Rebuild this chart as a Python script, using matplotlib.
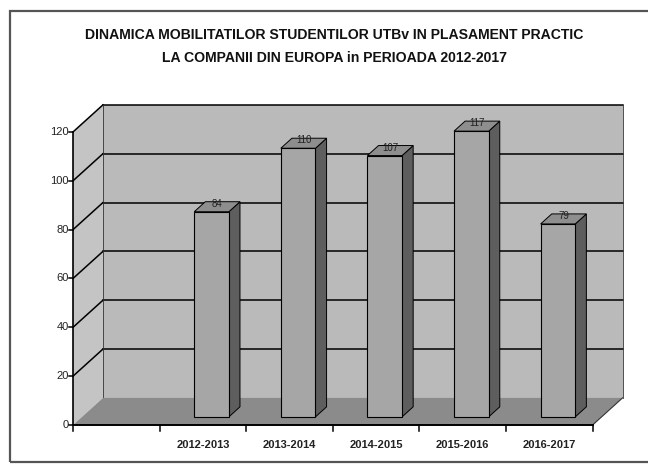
import numpy as np
import matplotlib
matplotlib.use("Agg")
import matplotlib.pyplot as plt
from matplotlib.patches import Polygon, Rectangle

# data (first category slot is empty in the original sheet)
categories = ["", "2012-2013", "2013-2014", "2014-2015", "2015-2016", "2016-2017"]
mobilities = [None, 84, 110, 107, 117, 79]
y_ticks = [0, 20, 40, 60, 80, 100, 120]

plt.rcParams["font.family"] = ["Liberation Sans Narrow", "Liberation Sans", "DejaVu Sans"]

# fake 3-D look: depth offset of the back wall, in data units
DX, DY = 0.346, 11.1
F0, F1 = 0.30, 0.67          # bar front / back as fraction of depth
BAR_OFF, BAR_W = 0.40, 0.40  # bar front face inside each slot
YMAX = 120

WALL = "#bababa"
SIDE_WALL = "#c4c4c4"
FLOOR = "#8b8b8b"
BAR_FRONT = "#a6a6a6"
BAR_TOP = "#8e8e8e"
BAR_SIDE = "#5e5e5e"

fig = plt.figure(figsize=(6.48, 4.67), dpi=100, facecolor="white")
ax = fig.add_axes([0, 0, 1, 1])
ax.set_xlim(-73 / 86.6, (648 - 73) / 86.6)
ax.set_ylim(-42 / 2.442, 425 / 2.442)
ax.axis("off")

n = len(categories)

# outer frame (right side runs off the scan)
fig.patches.append(Rectangle((10 / 648, 5 / 467), 1.05, 451 / 467,
                             transform=fig.transFigure, fill=False,
                             edgecolor="#555555", linewidth=1.6))

# left wall
ax.add_patch(Polygon([(0, 0), (DX, DY), (DX, YMAX + DY), (0, YMAX)],
                     closed=True, facecolor=SIDE_WALL, edgecolor="none", zorder=1))
# back wall
ax.add_patch(Rectangle((DX, DY), n, YMAX, facecolor=WALL, edgecolor="none", zorder=1))
# floor
ax.add_patch(Polygon([(0, 0), (n, 0), (n + DX, DY), (DX, DY)],
                     closed=True, facecolor=FLOOR, edgecolor="none", zorder=2))

# gridlines on back and left walls
for v in y_ticks[1:]:
    ax.plot([DX, n + DX], [v + DY, v + DY], color="black", lw=1.1, zorder=1.5)
    ax.plot([0, DX], [v, v + DY], color="black", lw=1.1, zorder=1.5)
ax.plot([DX, DX], [DY, YMAX + DY], color="#333333", lw=0.6, zorder=1.5)
ax.plot([n + DX, n + DX], [DY, YMAX + DY], color="#333333", lw=0.6, zorder=1.5)
ax.plot([n, n + DX], [0, DY], color="#333333", lw=0.8, zorder=2.5)

# bars
for i, v in enumerate(mobilities):
    if v is None:
        continue
    x0 = i + BAR_OFF
    x1 = x0 + BAR_W
    y0 = F0 * DY
    ddx, ddy = (F1 - F0) * DX, (F1 - F0) * DY
    top = y0 + v
    ax.add_patch(Polygon([(x1, y0), (x1 + ddx, y0 + ddy), (x1 + ddx, top + ddy), (x1, top)],
                         closed=True, facecolor=BAR_SIDE, edgecolor="black", lw=0.7, zorder=3))
    ax.add_patch(Polygon([(x0, top), (x1, top), (x1 + ddx, top + ddy), (x0 + ddx, top + ddy)],
                         closed=True, facecolor=BAR_TOP, edgecolor="black", lw=0.7, zorder=3))
    ax.add_patch(Rectangle((x0, y0), BAR_W, v, facecolor=BAR_FRONT,
                           edgecolor="black", lw=0.8, zorder=4))
    ax.text(x0 + BAR_W / 2 + ddx / 2, top + ddy * 0.8, str(v), ha="center", va="center",
            fontsize=7, color="#222222", zorder=5)

# axes lines and ticks
ax.plot([0, n], [0, 0], color="black", lw=1.4, zorder=6)
ax.plot([0, 0], [0, YMAX], color="black", lw=1.2, zorder=6)
for k in range(n + 1):
    ax.plot([k, k], [0, -2.4], color="black", lw=1.1, zorder=6)
for v in y_ticks:
    ax.plot([0, -0.045], [v, v], color="black", lw=1.1, zorder=6)
    ax.text(-0.05, v, str(v), ha="right", va="center", fontsize=8, color="#222222")

for i, c in enumerate(categories):
    ax.text(i + 0.5, -8.2, c, ha="center", va="center", fontsize=8,
            fontweight="bold", color="#222222")

fig.text(334 / 648, 1 - 35 / 467,
         "DINAMICA MOBILITATILOR STUDENTILOR UTBv IN PLASAMENT PRACTIC",
         ha="center", va="center", fontsize=10.1, fontweight="bold",
         family=["Liberation Sans", "DejaVu Sans"], color="#111111")
fig.text(334 / 648, 1 - 58 / 467,
         "LA COMPANII DIN EUROPA in PERIOADA 2012-2017",
         ha="center", va="center", fontsize=10.1, fontweight="bold",
         family=["Liberation Sans", "DejaVu Sans"], color="#111111")

fig.savefig("out.png", dpi=100, facecolor="white")
